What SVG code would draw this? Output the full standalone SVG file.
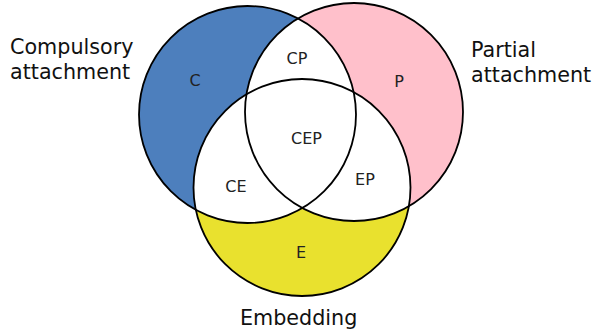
<svg xmlns="http://www.w3.org/2000/svg" width="593" height="333" viewBox="0 0 593 333">
<style>
.lbl{font-family:"DejaVu Sans",sans-serif;font-size:16px;fill:#222;text-anchor:middle}
.big{font-family:"DejaVu Sans",sans-serif;font-size:20.7px;fill:#111}
.ring{fill:none;stroke:#000;stroke-width:1.8}
</style>
<defs>
<circle id="cC" cx="247.5" cy="114.5" r="108.5"/>
<circle id="cP" cx="354" cy="112" r="109"/>
<circle id="cE" cx="302" cy="187.5" r="108.5"/>
<clipPath id="clipC"><use href="#cC"/></clipPath>
<clipPath id="clipP"><use href="#cP"/></clipPath>
</defs>
<rect width="593" height="333" fill="#fff"/>
<g id="fills">
<use href="#cC" fill="#4d7fbd"/>
<use href="#cP" fill="#ffc0cb"/>
<use href="#cE" fill="#e9e12e"/>
<g clip-path="url(#clipC)"><use href="#cP" fill="#fff"/><use href="#cE" fill="#fff"/></g>
<g clip-path="url(#clipP)"><use href="#cE" fill="#fff"/></g>
</g>
<g id="C"><use href="#cC" class="ring"/><text class="lbl" x="195" y="86">C</text></g>
<g id="P"><use href="#cP" class="ring"/><text class="lbl" x="399" y="87">P</text></g>
<g id="E"><use href="#cE" class="ring"/><text class="lbl" x="301" y="258">E</text></g>
<g id="CP"><text class="lbl" x="297" y="64">CP</text></g>
<g id="CEP"><text class="lbl" x="306.5" y="144">CEP</text></g>
<g id="CE"><text class="lbl" x="236" y="192">CE</text></g>
<g id="EP"><text class="lbl" x="365" y="185">EP</text></g>
<g id="labels">
<text class="big" x="10" y="54">Compulsory</text>
<text class="big" x="10" y="79">attachment</text>
<text class="big" x="471" y="57">Partial</text>
<text class="big" x="471" y="82">attachment</text>
<text class="big" x="240" y="325">Embedding</text>
</g>
</svg>
